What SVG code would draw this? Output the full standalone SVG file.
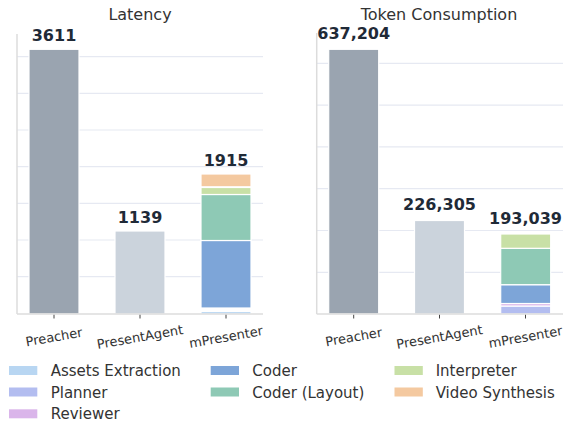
<svg xmlns="http://www.w3.org/2000/svg" width="571" height="426" viewBox="0 0 571 426">
<style>
text{font-family:"DejaVu Sans","Liberation Sans",sans-serif;fill:#333;}
.title{font-size:16px;text-anchor:middle;}
.val{font-size:16px;font-weight:bold;text-anchor:middle;fill:#1f2a37;}
.tick{font-size:13px;text-anchor:middle;fill:#333;}
.leg{font-size:15px;}
.grid{stroke:#e6e9f2;stroke-width:1.2;}
.spine{stroke:#dcdcdc;stroke-width:1.5;}
.tm{stroke:#444;stroke-width:1;}
.bar{stroke:#ffffff;stroke-width:1.2;}
.preacher{fill:#9aa4b0;}
.present{fill:#cbd3dc;}
.assets{fill:#b8d6f2;}
.planner{fill:#b3bdf0;}
.reviewer{fill:#dab5ea;}
.coder{fill:#7da5d8;}
.layout{fill:#8ec9b5;}
.interp{fill:#c8e0a6;}
.video{fill:#f4c9a0;}
</style>
<rect width="571" height="426" fill="#ffffff"/>

<g id="latency-panel">
  <text class="title" x="140" y="20">Latency</text>
  <g id="latency-grid">
    <line class="grid" x1="17" y1="56.7" x2="263" y2="56.7"/>
    <line class="grid" x1="17" y1="93.3" x2="263" y2="93.3"/>
    <line class="grid" x1="17" y1="130" x2="263" y2="130"/>
    <line class="grid" x1="17" y1="166.7" x2="263" y2="166.7"/>
    <line class="grid" x1="17" y1="203.3" x2="263" y2="203.3"/>
    <line class="grid" x1="17" y1="240" x2="263" y2="240"/>
    <line class="grid" x1="17" y1="276.7" x2="263" y2="276.7"/>
  </g>
  <g id="latency-preacher">
    <rect class="bar preacher" x="29" y="49.3" width="50" height="264.7"/>
    <text class="val" x="54" y="41">3611</text>
  </g>
  <g id="latency-presentagent">
    <rect class="bar present" x="115" y="231" width="50" height="83"/>
    <text class="val" x="140" y="222.7">1139</text>
  </g>
  <g id="latency-mpresenter">
    <rect class="bar assets" x="201" y="311.5" width="50" height="2.5"/>
    <rect class="bar coder" x="201" y="240.5" width="50" height="67.5"/>
    <rect class="bar layout" x="201" y="194.5" width="50" height="46"/>
    <rect class="bar interp" x="201" y="187.5" width="50" height="7"/>
    <rect class="bar video" x="201" y="174" width="50" height="12.8"/>
    <text class="val" x="226" y="166">1915</text>
  </g>
  <g id="latency-axes">
    <line class="spine" x1="17" y1="34" x2="17" y2="314"/>
    <line class="spine" x1="17" y1="314" x2="263" y2="314"/>
    <line class="tm" x1="54" y1="314.8" x2="54" y2="318.5"/>
    <line class="tm" x1="140" y1="314.8" x2="140" y2="318.5"/>
    <line class="tm" x1="226" y1="314.8" x2="226" y2="318.5"/>
    <text class="tick" x="54" y="341.5" transform="rotate(-10 54 337)">Preacher</text>
    <text class="tick" x="140" y="341.5" transform="rotate(-10 140 337)">PresentAgent</text>
    <text class="tick" x="226" y="341.5" transform="rotate(-10 226 337)">mPresenter</text>
  </g>
</g>

<g id="token-panel">
  <text class="title" x="439" y="20">Token Consumption</text>
  <g id="token-grid">
    <line class="grid" x1="317" y1="63.3" x2="563" y2="63.3"/>
    <line class="grid" x1="317" y1="105.1" x2="563" y2="105.1"/>
    <line class="grid" x1="317" y1="146.9" x2="563" y2="146.9"/>
    <line class="grid" x1="317" y1="188.7" x2="563" y2="188.7"/>
    <line class="grid" x1="317" y1="230.5" x2="563" y2="230.5"/>
    <line class="grid" x1="317" y1="272.3" x2="563" y2="272.3"/>
  </g>
  <g id="token-preacher">
    <rect class="bar preacher" x="328.7" y="49.3" width="50" height="264.7"/>
    <text class="val" x="353.7" y="39">637,204</text>
  </g>
  <g id="token-presentagent">
    <rect class="bar present" x="414.5" y="220.5" width="50" height="93.5"/>
    <text class="val" x="439.5" y="210.3">226,305</text>
  </g>
  <g id="token-mpresenter">
    <rect class="bar planner" x="500.7" y="306" width="50" height="8"/>
    <rect class="bar reviewer" x="500.7" y="303.5" width="50" height="2.5"/>
    <rect class="bar coder" x="500.7" y="284.7" width="50" height="18.8"/>
    <rect class="bar layout" x="500.7" y="248.3" width="50" height="36.4"/>
    <rect class="bar interp" x="500.7" y="234" width="50" height="14.3"/>
    <text class="val" x="525.5" y="224">193,039</text>
  </g>
  <g id="token-axes">
    <line class="spine" x1="316.7" y1="33" x2="316.7" y2="314"/>
    <line class="spine" x1="316.7" y1="314" x2="563" y2="314"/>
    <line class="tm" x1="353.7" y1="314.8" x2="353.7" y2="318.5"/>
    <line class="tm" x1="439.5" y1="314.8" x2="439.5" y2="318.5"/>
    <line class="tm" x1="525.5" y1="314.8" x2="525.5" y2="318.5"/>
    <text class="tick" x="353.7" y="341.5" transform="rotate(-10 353.7 337)">Preacher</text>
    <text class="tick" x="439.5" y="341.5" transform="rotate(-10 439.5 337)">PresentAgent</text>
    <text class="tick" x="525.5" y="341.5" transform="rotate(-10 525.5 337)">mPresenter</text>
  </g>
</g>

<g id="legend">
  <rect class="assets" x="9" y="366" width="28.3" height="9"/>
  <text class="leg" x="50.7" y="375.7">Assets Extraction</text>
  <rect class="planner" x="9" y="387.5" width="28.3" height="9"/>
  <text class="leg" x="50.7" y="397.5">Planner</text>
  <rect class="reviewer" x="9" y="409.3" width="28.3" height="9"/>
  <text class="leg" x="50.7" y="419">Reviewer</text>
  <rect class="coder" x="210.7" y="366" width="28.3" height="9"/>
  <text class="leg" x="252.3" y="375.7">Coder</text>
  <rect class="layout" x="210.7" y="387.5" width="28.3" height="9"/>
  <text class="leg" x="252.3" y="397.5">Coder (Layout)</text>
  <rect class="interp" x="394.5" y="366" width="28.3" height="9"/>
  <text class="leg" x="435.7" y="375.7">Interpreter</text>
  <rect class="video" x="394.5" y="387.5" width="28.3" height="9"/>
  <text class="leg" x="435.7" y="397.5">Video Synthesis</text>
</g>
</svg>
